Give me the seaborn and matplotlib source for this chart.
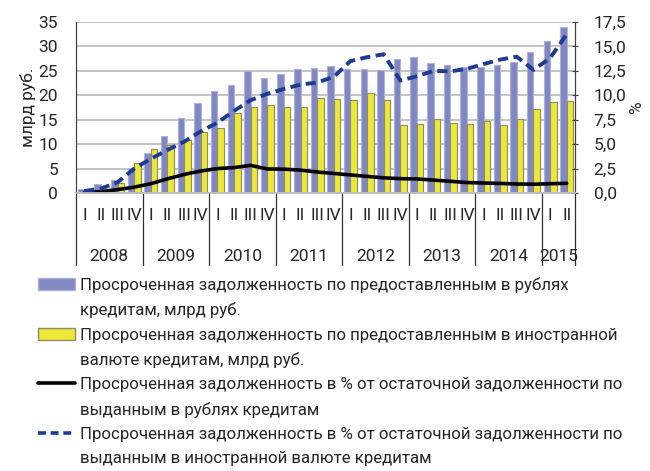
import numpy as np
import pandas as pd
import matplotlib
matplotlib.use("Agg")
import matplotlib.pyplot as plt
import matplotlib.transforms as mtransforms
import seaborn as sns
from matplotlib.patches import Patch
from matplotlib.lines import Line2D
from matplotlib.ticker import FuncFormatter

# quarters 2008 Q1 .. 2015 Q2
years = ["2008", "2009", "2010", "2011", "2012", "2013", "2014", "2015"]
quarters_per_year = [4, 4, 4, 4, 4, 4, 4, 2]
quarter_labels = ["I", "II", "III", "IV"] * 7 + ["I", "II"]

# overdue debt, bn rub (left axis)
rub_overdue = [0.8, 1.8, 2.7, 5.2, 8.1, 11.6, 15.3, 18.5, 20.8, 22.2,
               25.0, 23.5, 24.4, 25.4, 25.5, 25.9, 25.4, 25.4, 25.2, 27.5,
               27.8, 26.7, 26.3, 25.8, 25.8, 26.3, 26.9, 28.8, 31.2, 34.0]
fx_overdue = [0.2, 0.4, 2.1, 6.2, 9.0, 9.9, 10.9, 12.4, 13.3, 16.3,
              17.6, 18.0, 17.7, 17.7, 19.5, 19.3, 19.0, 20.4, 19.1, 13.9,
              14.1, 15.2, 14.4, 14.1, 14.8, 13.9, 15.1, 17.1, 18.7, 18.9]

# overdue share of outstanding debt, % (right axis)
rub_share = [0.07, 0.14, 0.35, 0.6, 0.95, 1.45, 1.9, 2.25, 2.5, 2.6,
             2.83, 2.46, 2.44, 2.34, 2.15, 2.0, 1.85, 1.7, 1.55, 1.47,
             1.44, 1.32, 1.2, 1.07, 1.02, 0.98, 0.92, 0.9, 0.95, 0.99]
fx_share = [0.2, 0.45, 1.1, 2.5, 3.5, 4.4, 5.25, 6.3, 7.2, 8.4,
            9.5, 10.15, 10.65, 11.1, 11.3, 11.9, 13.5, 13.9, 14.2, 11.5,
            11.95, 12.5, 12.45, 12.7, 13.2, 13.65, 13.95, 12.6, 13.8, 16.25]

labels = [
    "Просроченная задолженность по предоставленным в рублях",
    "кредитам, млрд руб.",
    "Просроченная задолженность по предоставленным в иностранной",
    "валюте кредитам, млрд руб.",
    "Просроченная задолженность в % от остаточной задолженности по",
    "выданным в рублях кредитам",
    "Просроченная задолженность в % от остаточной задолженности по",
    "выданным в иностранной валюте кредитам",
]

BLUE = "#8087C2"
BLUE_EDGE = "#AEB3DD"
YELLOW = "#EDE838"
YELLOW_EDGE = "#8E8C63"
DASH_BLUE = "#1F3A93"
GRID = "#BEBEBE"

sns.set_style("white")
plt.rcParams["font.family"] = ["Roboto", "DejaVu Sans"]

n = len(rub_overdue)
df = pd.DataFrame({
    "q": np.tile(np.arange(n), 2),
    "value": rub_overdue + fx_overdue,
    "series": ["rub"] * n + ["fx"] * n,
})

fig = plt.figure(figsize=(6.5, 4.71), dpi=100)
ax = fig.add_axes([76 / 650, 1 - 193 / 471, 499 / 650, 171 / 471])

sns.barplot(data=df, x="q", y="value", hue="series", hue_order=["rub", "fx"],
            palette=[BLUE, YELLOW], saturation=1, width=0.78, ax=ax,
            legend=False, zorder=2)
for bar in ax.containers[0]:
    bar.set_edgecolor(BLUE_EDGE)
    bar.set_linewidth(0.8)
for bar in ax.containers[1]:
    bar.set_edgecolor(YELLOW_EDGE)
    bar.set_linewidth(0.8)

ax.set_ylim(0, 35)
ax.set_yticks(np.arange(0, 36, 5))
ax.yaxis.grid(True, color=GRID, linewidth=1.3, zorder=0)
ax.set_axisbelow(True)
ax.tick_params(axis="y", length=0, pad=13, labelsize=12.5)
ax.set_ylabel("млрд руб.", fontsize=12.5, labelpad=2)

ax.set_xticks(np.arange(n))
ax.set_xticklabels(quarter_labels)
ax.tick_params(axis="x", length=0, pad=11, labelsize=12.5)
ax.set_xlabel("")

# right axis with the shares
ax2 = ax.twinx()
x = np.arange(n)
sns.lineplot(x=x, y=rub_share, ax=ax2, color="black", linewidth=2.6)
sns.lineplot(x=x, y=fx_share, ax=ax2, color=DASH_BLUE, linewidth=2.8)
ax2.lines[-1].set_dashes((2.6, 1.4))
ax2.set_ylim(0, 17.5)
ax2.set_yticks(np.arange(0, 17.6, 2.5))
ax2.yaxis.set_major_formatter(FuncFormatter(lambda v, p: f"{v:.1f}".replace(".", ",")))
ax2.tick_params(axis="y", direction="inout", length=5, pad=11, labelsize=12.5, color="#404040")
ax2.set_ylabel("%", fontsize=12.5, labelpad=2)
ax.set_xlim(-0.5, n - 0.5)

for a in (ax, ax2):
    a.spines["top"].set_visible(False)
    a.spines["left"].set_color("#404040")
    a.spines["right"].set_color("#404040")
    a.spines["bottom"].set_color(GRID)
    a.spines["bottom"].set_linewidth(1.3)

# second level of the x axis: year labels and separators
trans = mtransforms.blended_transform_factory(ax.transData, ax.transAxes)
bounds = np.concatenate([[0], np.cumsum(quarters_per_year)]) - 0.5
for b in bounds:
    ax.plot([b, b], [0, -0.42], transform=trans, color="#303030",
            linewidth=0.9, clip_on=False)
for yr, lo, hi in zip(years, bounds[:-1], bounds[1:]):
    ax.text((lo + hi) / 2, -0.37, yr, transform=trans, ha="center",
            va="center", fontsize=12.5)

handles = [
    Patch(facecolor=BLUE, edgecolor=BLUE_EDGE),
    Patch(alpha=0),
    Patch(facecolor=YELLOW, edgecolor=YELLOW_EDGE),
    Patch(alpha=0),
    Line2D([], [], color="black", linewidth=2.6),
    Line2D([], [], alpha=0),
    Line2D([], [], color=DASH_BLUE, linewidth=2.6, dashes=(2.2, 1.3)),
    Line2D([], [], alpha=0),
]
fig.legend(handles, labels, loc="upper left", bbox_to_anchor=(38 / 650, 1 - 277 / 471),
           frameon=False, fontsize=12.2, handlelength=2.2, handletextpad=0.3,
           labelspacing=0.55, borderpad=0, borderaxespad=0)

fig.savefig("out.png", dpi=100)
